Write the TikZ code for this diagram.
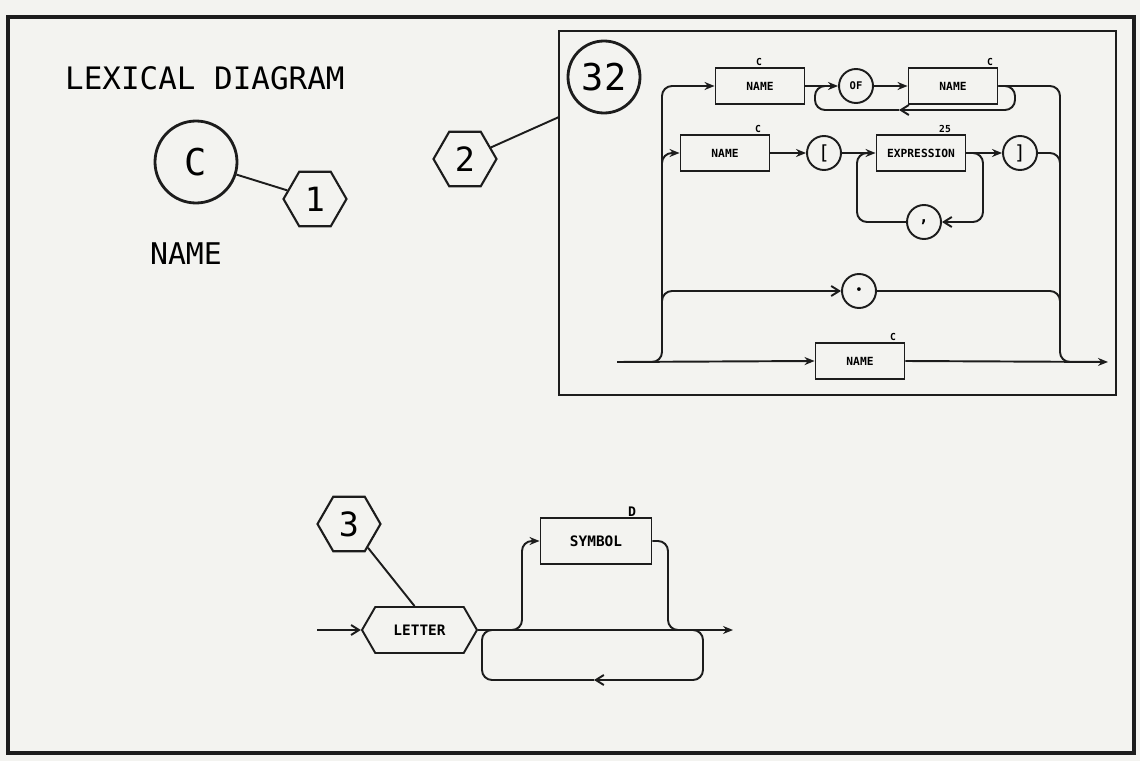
\documentclass[tikz,border=0pt]{standalone}
\usepackage{fontspec}
\newfontfamily\plotfont{DejaVu Sans Mono}
\usepackage{tikz}
\usetikzlibrary{arrows.meta, positioning, calc, shapes.geometric, shapes.symbols}
\definecolor{paper}{RGB}{243,243,240}
\definecolor{ink}{RGB}{28,28,28}

\begin{document}
\begin{tikzpicture}[x=2mm, y=-2mm, >={Stealth[length=2mm, width=1.6mm]},
  wire/.style={draw=ink, line width=1.1pt},
  back/.style={wire, rounded corners=2mm},
  box/.style={rectangle, draw=ink, line width=1.1pt, minimum width=17.8mm, minimum height=7.2mm, inner sep=0pt, font=\plotfont\bfseries\fontsize{6.4}{7}\selectfont},
  bigbox/.style={box, minimum width=22.2mm, minimum height=9.2mm, font=\plotfont\bfseries\fontsize{8.2}{9}\selectfont},
  lit/.style={circle, draw=ink, line width=1.1pt, minimum size=6.8mm, inner sep=0pt, font=\plotfont\bfseries\fontsize{6}{7}\selectfont},
  ring/.style={circle, draw=ink, line width=1.6pt, inner sep=0pt},
  hexa/.style={regular polygon, regular polygon sides=6, draw=ink, line width=1.2pt, minimum size=12.6mm, inner sep=0pt, font=\plotfont\fontsize{19}{20}\selectfont},
  hexrule/.style={signal, signal to=east and west, signal from=nowhere, signal pointer angle=120, draw=ink, line width=1.1pt, minimum width=23mm, minimum height=9.2mm, inner sep=0pt, font=\plotfont\bfseries\fontsize{8.2}{9}\selectfont},
  tag/.style={anchor=south, inner sep=1pt, font=\plotfont\bfseries\fontsize{5.5}{6}\selectfont},
  open/.style={-{Straight Barb[length=1.6mm, width=2mm]}}]

  \useasboundingbox (0,0) rectangle (114,76.1);
  \fill[paper] (0,0) rectangle (114,76.1);
  \draw[ink, line width=1.8pt] (0.8,1.7) rectangle (113.4,75.3);

  % === LEGEND ===
  \node[anchor=base west, font=\plotfont\fontsize{17.6}{20}\selectfont] (title) at (5.9,9.0) {LEXICAL DIAGRAM};
  \node[ring, minimum size=16.4mm, font=\plotfont\fontsize{21}{22}\selectfont] (cname) at (19.6,16.2) {C};
  \node[hexa] (h1) at (31.5,19.9) {1};
  \draw[wire] (cname) -- (h1);
  \node[font=\plotfont\fontsize{17}{18}\selectfont] (lname) at (18.6,25.4) {NAME};

  \node[hexa] (h2) at (46.5,15.9) {2};
  \coordinate (hit) at (55.9,11.7);
  \draw[wire] (h2) -- (hit);

  % === CHART 32 ===
  \draw[ink, line width=1.3pt] (55.9,3.1) rectangle (111.6,39.5);
  \node[ring, minimum size=14.4mm, font=\plotfont\fontsize{21}{22}\selectfont] (c32) at (60.4,7.7) {32};

  \coordinate (in) at (61.7,36.2);
  \coordinate (out) at (110.8,36.2);

  % row 1
  \node[box] (name1) at (76.0,8.6) {NAME};
  \node[lit] (of) at (85.6,8.6) {OF};
  \node[box] (name4) at (95.3,8.6) {NAME};
  \node[tag] at (75.9,6.8) {C};
  \node[tag] at (99.0,6.8) {C};
  \draw[back, ->] (in) -| (66.2,8.6) -- (name1.west);
  \draw[wire, ->] (name1.east) -- (of.west);
  \draw[wire, ->] (of.east) -- (name4.west);
  \draw[back] (name4.east) -| (106.0,36.2) -- (107.5,36.2);
  \draw[back, open] (name4.east) -| (101.5,11.0) -- (89.9,11.0);
  \draw[back] (89.9,11.0) -| (81.5,8.6) -- (82.6,8.6);

  % row 2
  \node[box] (name2) at (72.5,15.3) {NAME};
  \node[lit, font=\plotfont\fontsize{11}{12}\selectfont] (lb) at (82.4,15.3) {[};
  \node[box] (expr) at (92.1,15.3) {EXPRESSION};
  \node[lit, font=\plotfont\fontsize{11}{12}\selectfont] (rb) at (102.0,15.3) {]};
  \node[lit, font=\plotfont\bfseries\fontsize{9}{10}\selectfont] (comma) at (92.4,22.2) {,};
  \node[tag] at (75.8,13.5) {C};
  \node[tag] at (94.5,13.5) {25};
  \draw[back, ->] (66.2,17.5) |- (name2.west);
  \draw[wire, ->] (name2.east) -- (lb.west);
  \draw[wire, ->] (lb.east) -- (expr.west);
  \draw[wire, ->] (expr.east) -- (rb.west);
  \draw[back] (rb.east) -| (106.0,17.5);
  \draw[back, open] (expr.east) -| (98.3,22.2) -- (comma.east);
  \draw[back] (comma.west) -| (85.7,15.3) -- (86.6,15.3);

  % row 3
  \node[lit] (dot) at (85.9,29.1) {•};
  \draw[back, open] (66.2,31.3) |- (dot.west);
  \draw[back] (dot.east) -| (106.0,31.3);

  % main line
  \node[box] (name3) at (86.0,36.1) {NAME};
  \node[tag] at (89.3,34.3) {C};
  \draw[wire, ->] (in) -- (name3.west);
  \draw[wire, ->] (name3.east) -- (out);

  % === LETTER / SYMBOL ===
  \node[hexa] (h3) at (34.9,52.4) {3};
  \node[hexrule] (letter) at (41.95,63.0) {LETTER};
  \node[bigbox] (symbol) at (59.6,54.1) {SYMBOL};
  \node[tag, font=\plotfont\bfseries\fontsize{7.5}{8}\selectfont] at (63.2,51.9) {D};
  \draw[wire] (h3) -- ([xshift=-1mm]letter.north);

  \coordinate (start) at (31.7,63.0);
  \coordinate (stop) at (73.3,63.0);
  \draw[wire, open] (start) -- (letter.west);
  \draw[wire, ->] (letter.east) -- (stop);
  \draw[back, ->] (50.0,63.0) -| (52.2,54.1) -- (symbol.west);
  \draw[back] (symbol.east) -| (66.8,63.0) -- (68.3,63.0);
  \draw[back, open] (68.3,63.0) -| (70.3,68.0) -- (59.4,68.0);
  \draw[back] (59.4,68.0) -| (48.2,63.0) -- (49.6,63.0);
\end{tikzpicture}
\end{document}
